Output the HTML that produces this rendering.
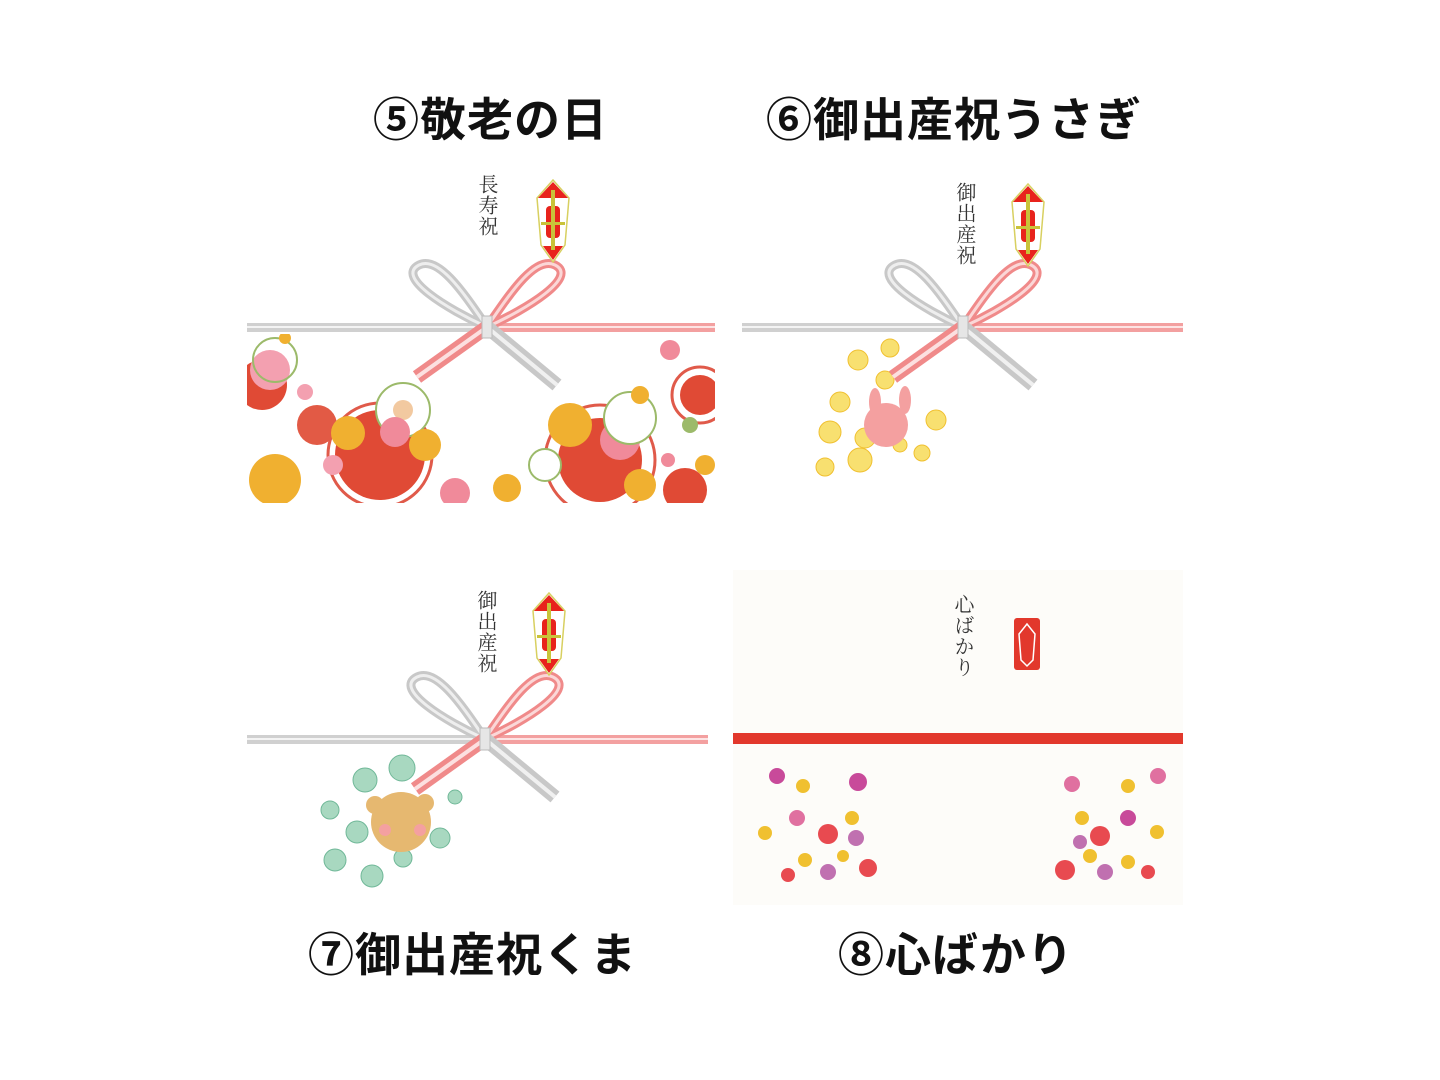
<!DOCTYPE html>
<html><head><meta charset="utf-8">
<style>
html,body{margin:0;padding:0;background:#fff;}
body{width:1440px;height:1080px;position:relative;overflow:hidden;font-family:"Liberation Sans","Noto Sans CJK JP",sans-serif;}
.t{position:absolute;font-weight:bold;font-size:46px;color:#111;white-space:nowrap;letter-spacing:1px;}
.v{position:absolute;writing-mode:vertical-rl;font-family:"Noto Serif CJK SC","Noto Sans CJK JP",serif;font-size:20px;color:#333;letter-spacing:1px;}
svg{position:absolute;left:0;top:0;}
</style></head><body>
<div class="t" style="left:373px;top:84px;">⑤敬老の日</div>
<div class="t" style="left:766px;top:84px;">⑥御出産祝うさぎ</div>
<div class="t" style="left:308px;top:919px;">⑦御出産祝くま</div>
<div class="t" style="left:838px;top:919px;">⑧心ばかり</div>

<svg width="1440" height="1080" viewBox="0 0 1440 1080">
<defs>
 <clipPath id="c1"><rect x="247" y="334" width="468" height="169"/></clipPath>
 <g id="bow">
  <path d="M0,0 C-40,-18 -92,-50 -68,-62 C-48,-72 -22,-32 0,0" fill="none" stroke="#c8c8c8" stroke-width="9"/>
  <path d="M0,0 C-40,-18 -92,-50 -68,-62 C-48,-72 -22,-32 0,0" fill="none" stroke="#eee" stroke-width="3"/>
  <path d="M0,0 C40,-18 92,-50 68,-62 C48,-72 22,-32 0,0" fill="none" stroke="#f08a8a" stroke-width="9"/>
  <path d="M0,0 C40,-18 92,-50 68,-62 C48,-72 22,-32 0,0" fill="none" stroke="#fbd7d7" stroke-width="3"/>
  <path d="M0,0 L-70,50" stroke="#f08a8a" stroke-width="14"/>
  <path d="M0,0 L-70,50" stroke="#fce0e0" stroke-width="4"/>
  <path d="M0,0 L70,58" stroke="#c8c8c8" stroke-width="14"/>
  <path d="M0,0 L70,58" stroke="#f0f0f0" stroke-width="4"/>
  <rect x="-5" y="-11" width="10" height="22" fill="#e6e6e6" stroke="#bbb"/>
 </g>
 <g id="noshi">
  <polygon points="0,0 16,18 12,65 0,82 -12,65 -16,18" fill="#fff" stroke="#d8d060" stroke-width="1.5"/>
  <polygon points="0,2 15,18 -15,18" fill="#e8231c"/>
  <polygon points="0,80 -10,66 10,66" fill="#e8231c"/>
  <rect x="-7" y="26" width="14" height="32" rx="4" fill="#e8231c"/>
  <rect x="-2" y="10" width="4" height="60" fill="#c9c33a"/>
  <rect x="-12" y="42" width="24" height="3" fill="#c9c33a"/>
 </g>
</defs>

<!-- Panel 1 -->
<rect x="247" y="323" width="240" height="9" fill="#d0d0d0"/>
<rect x="247" y="326" width="240" height="2" fill="#f4f4f4"/>
<rect x="487" y="323" width="228" height="9" fill="#f3a0a0"/>
<rect x="487" y="326" width="228" height="2" fill="#fde4e4"/>
<g clip-path="url(#c1)">
 <circle cx="380" cy="455" r="45" fill="#e04a35"/>
 <circle cx="380" cy="455" r="52" fill="none" stroke="#e05a4a" stroke-width="3"/>
 <circle cx="403" cy="410" r="27" fill="#fff" stroke="#9cba6a" stroke-width="2"/>
 <circle cx="403" cy="410" r="10" fill="#f2c9a0"/>
 <circle cx="317" cy="425" r="20" fill="#e25a45"/>
 <circle cx="348" cy="433" r="17" fill="#f0b030"/>
 <circle cx="425" cy="445" r="16" fill="#f0b030"/>
 <circle cx="395" cy="432" r="15" fill="#f08a9a"/>
 <circle cx="262" cy="385" r="25" fill="#e04a35"/>
 <circle cx="270" cy="370" r="20" fill="#f3a0b0"/>
 <circle cx="275" cy="360" r="22" fill="none" stroke="#9cba6a" stroke-width="2"/>
 <circle cx="275" cy="480" r="26" fill="#f0b030"/>
 <circle cx="455" cy="493" r="15" fill="#f08a9a"/>
 <circle cx="507" cy="488" r="14" fill="#f0b030"/>
 <circle cx="305" cy="392" r="8" fill="#f3a0b0"/>
 <circle cx="285" cy="338" r="6" fill="#f0b030"/>
 <circle cx="600" cy="460" r="42" fill="#e04a35"/>
 <circle cx="600" cy="460" r="55" fill="none" stroke="#e05a4a" stroke-width="3"/>
 <circle cx="620" cy="440" r="20" fill="#f08a9a"/>
 <circle cx="570" cy="425" r="22" fill="#f0b030"/>
 <circle cx="630" cy="418" r="26" fill="#fff" stroke="#9cba6a" stroke-width="2"/>
 <circle cx="545" cy="465" r="16" fill="#fff" stroke="#9cba6a" stroke-width="2"/>
 <circle cx="640" cy="485" r="16" fill="#f0b030"/>
 <circle cx="685" cy="490" r="22" fill="#e04a35"/>
 <circle cx="700" cy="395" r="20" fill="#e04a35"/>
 <circle cx="700" cy="395" r="28" fill="none" stroke="#e05a4a" stroke-width="3"/>
 <circle cx="690" cy="425" r="8" fill="#9cba6a"/>
 <circle cx="670" cy="350" r="10" fill="#f08a9a"/>
 <circle cx="640" cy="395" r="9" fill="#f0b030"/>
 <circle cx="705" cy="465" r="10" fill="#f0b030"/>
 <circle cx="668" cy="460" r="7" fill="#f08a9a"/>
 <circle cx="333" cy="465" r="10" fill="#f3a0b0"/>
</g>
<use href="#bow" x="487" y="327"/>
<use href="#noshi" x="553" y="180"/>

<!-- Panel 2 -->
<rect x="742" y="323" width="221" height="9" fill="#d0d0d0"/>
<rect x="742" y="326" width="221" height="2" fill="#f4f4f4"/>
<rect x="963" y="323" width="220" height="9" fill="#f3a0a0"/>
<rect x="963" y="326" width="220" height="2" fill="#fde4e4"/>
<g fill="#f8e070" stroke="#f0c030" stroke-width="1">
 <circle cx="858" cy="360" r="10"/><circle cx="890" cy="348" r="9"/><circle cx="885" cy="380" r="9"/>
 <circle cx="840" cy="402" r="10"/><circle cx="830" cy="432" r="11"/><circle cx="865" cy="438" r="10"/>
 <circle cx="936" cy="420" r="10"/><circle cx="860" cy="460" r="12"/><circle cx="825" cy="467" r="9"/>
 <circle cx="922" cy="453" r="8"/><circle cx="900" cy="445" r="7"/>
</g>
<circle cx="886" cy="425" r="22" fill="#f4a0a0"/>
<ellipse cx="875" cy="402" rx="6" ry="14" fill="#f4a0a0"/>
<ellipse cx="905" cy="400" rx="6" ry="14" fill="#f4a0a0"/>
<use href="#bow" x="963" y="327"/>
<use href="#noshi" x="1028" y="184"/>

<!-- Panel 3 -->
<rect x="247" y="735" width="238" height="9" fill="#d0d0d0"/>
<rect x="247" y="738" width="238" height="2" fill="#f4f4f4"/>
<rect x="485" y="735" width="223" height="9" fill="#f3a0a0"/>
<rect x="485" y="738" width="223" height="2" fill="#fde4e4"/>
<g fill="#a8d8c0" stroke="#70b898" stroke-width="1">
 <circle cx="365" cy="780" r="12"/><circle cx="402" cy="768" r="13"/><circle cx="330" cy="810" r="9"/>
 <circle cx="357" cy="832" r="11"/><circle cx="335" cy="860" r="11"/><circle cx="372" cy="876" r="11"/>
 <circle cx="440" cy="838" r="10"/><circle cx="403" cy="858" r="9"/><circle cx="455" cy="797" r="7"/>
</g>
<circle cx="401" cy="822" r="30" fill="#e6b870"/>
<circle cx="375" cy="805" r="9" fill="#e6b870"/><circle cx="425" cy="803" r="9" fill="#e6b870"/>
<circle cx="385" cy="830" r="6" fill="#f4a0a0"/><circle cx="420" cy="830" r="6" fill="#f4a0a0"/>
<use href="#bow" x="485" y="739"/>
<use href="#noshi" x="549" y="593"/>

<!-- Panel 4 -->
<rect x="733" y="570" width="450" height="335" fill="#fdfcf9"/>
<rect x="733" y="733" width="450" height="11" fill="#e2382c"/>
<rect x="1014" y="618" width="26" height="52" rx="3" fill="#e2382c"/>
<polygon points="1027,624 1035,634 1033,660 1027,666 1021,660 1019,634" fill="none" stroke="#fff" stroke-width="1.5"/>
<g>
 <circle cx="777" cy="776" r="8" fill="#c84a9a"/><circle cx="803" cy="786" r="7" fill="#f0c030"/>
 <circle cx="858" cy="782" r="9" fill="#c84a9a"/><circle cx="797" cy="818" r="8" fill="#e070a0"/>
 <circle cx="828" cy="834" r="10" fill="#e84a50"/><circle cx="852" cy="818" r="7" fill="#f0c030"/>
 <circle cx="856" cy="838" r="8" fill="#c070b0"/><circle cx="765" cy="833" r="7" fill="#f0c030"/>
 <circle cx="805" cy="860" r="7" fill="#f0c030"/><circle cx="788" cy="875" r="7" fill="#e84a50"/>
 <circle cx="828" cy="872" r="8" fill="#c070b0"/><circle cx="868" cy="868" r="9" fill="#e84a50"/>
 <circle cx="843" cy="856" r="6" fill="#f0c030"/>
 <circle cx="1072" cy="784" r="8" fill="#e070a0"/><circle cx="1128" cy="786" r="7" fill="#f0c030"/>
 <circle cx="1158" cy="776" r="8" fill="#e070a0"/><circle cx="1082" cy="818" r="7" fill="#f0c030"/>
 <circle cx="1128" cy="818" r="8" fill="#c84a9a"/><circle cx="1157" cy="832" r="7" fill="#f0c030"/>
 <circle cx="1100" cy="836" r="10" fill="#e84a50"/><circle cx="1080" cy="842" r="7" fill="#c070b0"/>
 <circle cx="1065" cy="870" r="10" fill="#e84a50"/><circle cx="1090" cy="856" r="7" fill="#f0c030"/>
 <circle cx="1105" cy="872" r="8" fill="#c070b0"/><circle cx="1128" cy="862" r="7" fill="#f0c030"/>
 <circle cx="1148" cy="872" r="7" fill="#e84a50"/>
</g>
</svg>

<div class="v" style="left:474px;top:174px;">長寿祝</div>
<div class="v" style="left:952px;top:182px;">御出産祝</div>
<div class="v" style="left:473px;top:590px;">御出産祝</div>
<div class="v" style="left:950px;top:594px;">心ばかり</div>
</body></html>
